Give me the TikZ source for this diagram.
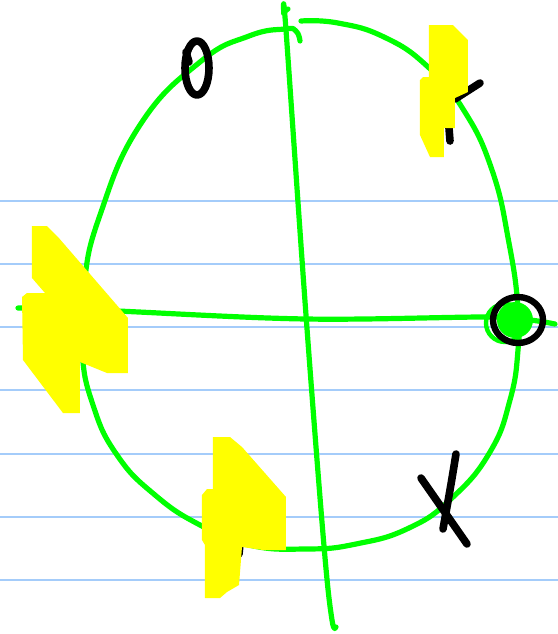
\documentclass[tikz,border=0pt]{standalone}
\usepackage{xcolor}
\usetikzlibrary{positioning}

\definecolor{penGreen}{RGB}{0,255,0}
\definecolor{ruleBlue}{RGB}{164,204,250}
\definecolor{markYellow}{RGB}{255,255,0}

\begin{document}
\begin{tikzpicture}[
    x=0.5pt, y=-0.5pt,
    rule/.style={ruleBlue, line width=1pt},
    pen/.style={penGreen, line width=2.6pt, line cap=round, line join=round},
    ink/.style={black, line width=3.8pt, line cap=round, line join=round},
    highlight/.style={markYellow, fill=markYellow, line join=round}
]
\useasboundingbox (0,0) rectangle (558,634);

% Ruled lines
\foreach \ry in {201,264,327,390,454,517,580}
    \draw[rule] (0,\ry) -- (558,\ry);

% Ellipse and axes
\draw[pen] plot[smooth, tension=0.8] coordinates {(301,21) (338,23) (384,37) (427,66) (463,109)
    (492,170) (509,243) (518,307) (518,350) (510,400) (490,452) (452,498) (409,528)
    (356,544) (306,549) (249,545) (200,525) (155,495) (117,455) (93,405) (82,350)
    (84,285) (100,215) (140,125) (200,62) (249,36) (285,29) (296,31) (300,41)};
\draw[pen] plot[smooth, tension=0.6] coordinates {(288,9) (284,14) (286,30) (306,315) (324,546) (332,620) (336,627)};
\draw[pen] plot[smooth, tension=0.6] coordinates {(18,308) (60,309) (117,311) (306,319) (488,317) (530,320) (555,324)};

% Marks
\draw[ink] (197,68) ellipse [x radius=12, y radius=27];
\draw[ink] (189,62) -- (186,52);
\draw[ink] (421,478) -- (467,544);
\draw[ink] plot[smooth] coordinates {(456,454) (450,490) (443,529)};
\draw[ink] (455,99) -- (480,83);
\draw[ink] (449,128) -- (450,141);
\draw[ink] (240,544) -- (239,554);

% Point on the ellipse
\draw[penGreen, line width=2.2pt] (505,323) circle [radius=19];
\fill[penGreen] (515,320) circle [radius=18];
\draw[ink, line width=3.2pt] (518,320) ellipse [x radius=25, y radius=23];

% Highlights
\fill[highlight] (429,25) -- (453,25) -- (468,40) -- (468,92) -- (455,98) -- (455,128)
    -- (444,128) -- (444,157) -- (430,157) -- (420,135) -- (420,80) -- (423,77) -- (429,77) -- cycle;
\fill[highlight] (32,226) -- (47,226) -- (58,237) -- (128,318) -- (128,373) -- (107,373)
    -- (80,362) -- (80,413) -- (63,413) -- (23,360) -- (22,297) -- (27,293) -- (45,293) -- (32,278) -- cycle;
\fill[highlight] (213,437) -- (230,437) -- (242,447) -- (286,497) -- (286,550) -- (263,550)
    -- (242,547) -- (239,585) -- (227,592) -- (220,598) -- (205,598) -- (205,545) -- (202,540)
    -- (202,495) -- (207,489) -- (213,489) -- cycle;

\end{tikzpicture}
\end{document}
